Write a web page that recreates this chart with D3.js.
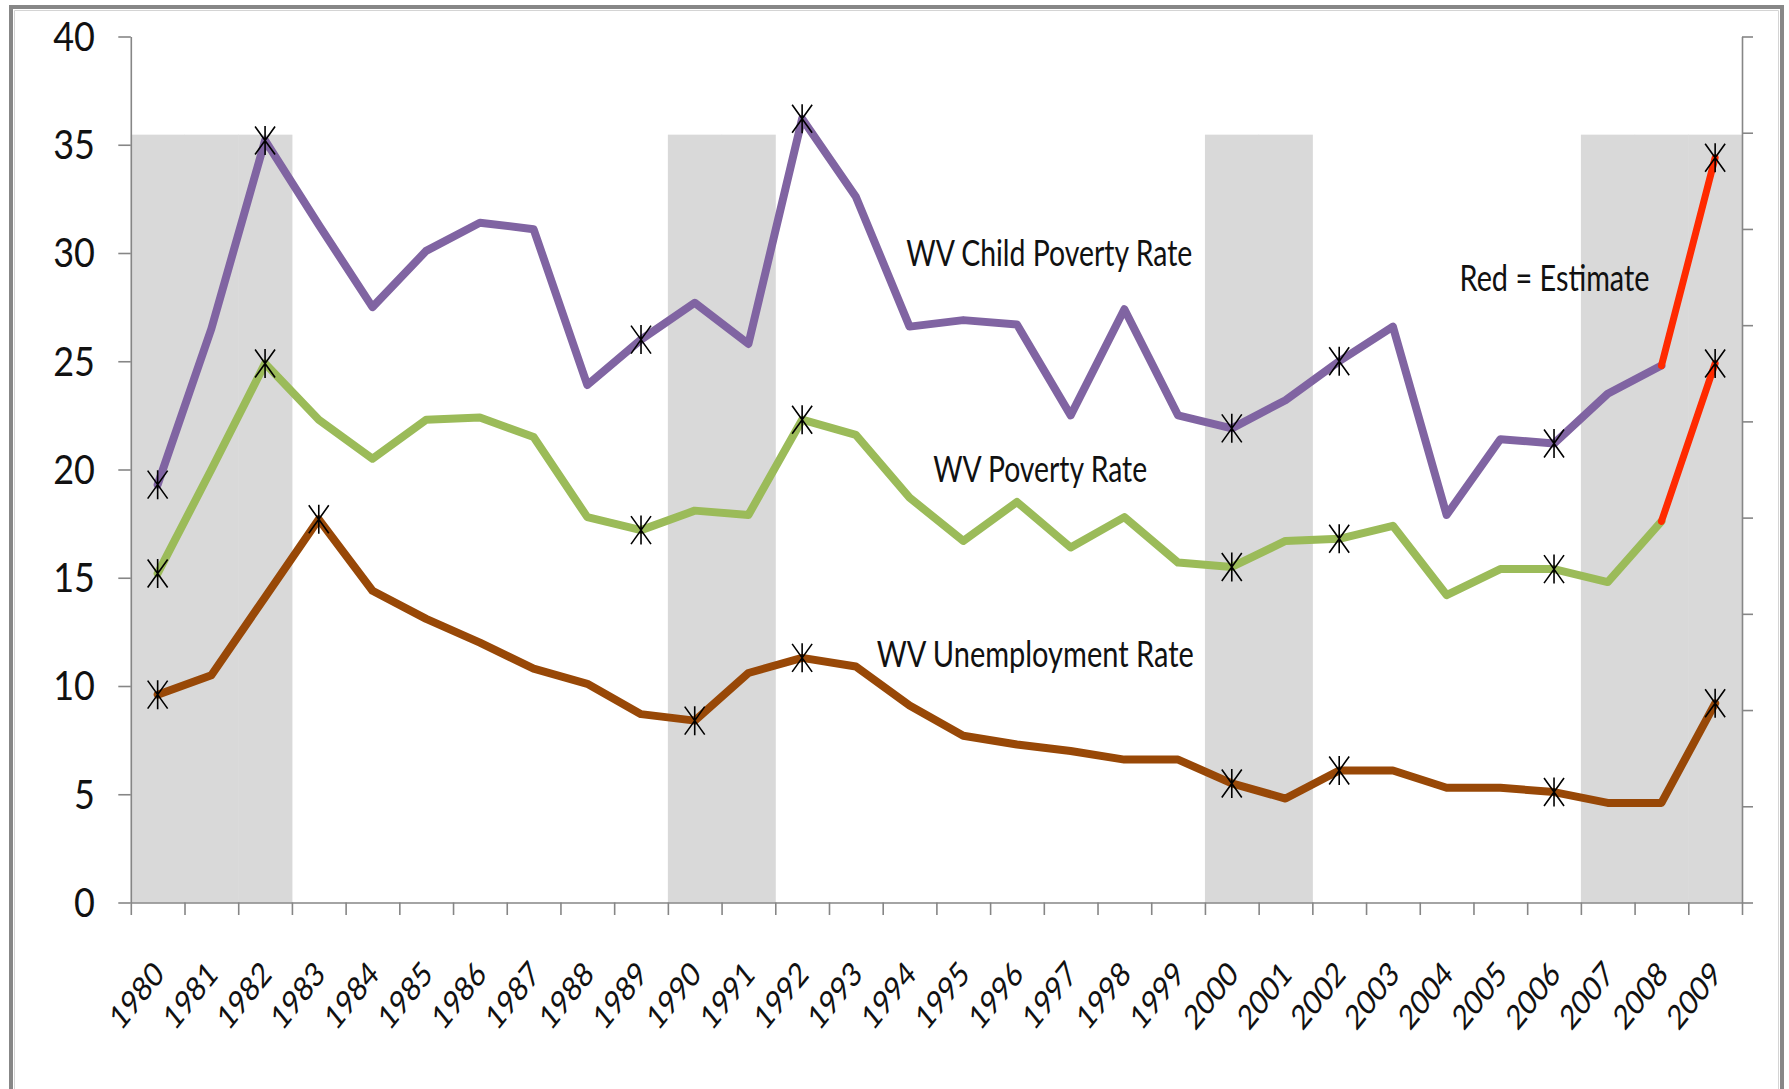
<html>
  <head>
    <style>
      body { margin: 0; background: #fff; }
      svg { display: block; }
      .tick-label, .note, .year { font-family: Lato, "Open Sans", sans-serif; fill: #111; }
    </style>
  </head>
  <body>
    <div id="vis"></div>
    <script src="https://d3js.org/d3.v7.min.js"></script>
    <script>
      // values
      const years = ["1980","1981","1982","1983","1984","1985","1986","1987","1988","1989",
                     "1990","1991","1992","1993","1994","1995","1996","1997","1998","1999",
                     "2000","2001","2002","2003","2004","2005","2006","2007","2008","2009"]
      const childPoverty = [19.3, 26.5, 35.2, 31.3, 27.5, 30.1, 31.4, 31.1, 23.9, 26.0,
                            27.7, 25.8, 36.2, 32.6, 26.6, 26.9, 26.7, 22.5, 27.4, 22.5,
                            21.9, 23.2, 25.0, 26.6, 17.9, 21.4, 21.2, 23.5, 24.8, 34.4]
      const poverty = [15.2, 20.0, 24.9, 22.3, 20.5, 22.3, 22.4, 21.5, 17.8, 17.2,
                       18.1, 17.9, 22.3, 21.6, 18.7, 16.7, 18.5, 16.4, 17.8, 15.7,
                       15.5, 16.7, 16.8, 17.4, 14.2, 15.4, 15.4, 14.8, 17.6, 24.9]
      const unemployment = [9.6, 10.5, 14.1, 17.7, 14.4, 13.1, 12.0, 10.8, 10.1, 8.7,
                            8.4, 10.6, 11.3, 10.9, 9.1, 7.7, 7.3, 7.0, 6.6, 6.6,
                            5.5, 4.8, 6.1, 6.1, 5.3, 5.3, 5.1, 4.6, 4.6, 9.2]
      const childMarks = ["1980","1982","1989","1992","2000","2002","2006","2009"]
      const povertyMarks = ["1980","1982","1989","1992","2000","2002","2006","2009"]
      const unemploymentMarks = ["1980","1983","1990","1992","2000","2002","2006","2009"]
      const recessionYears = ["1980","1981","1982","1990","1991","2000","2001","2007","2008","2009"]
      const recessionValue = 7.98   // on the unlabeled right axis
      const estimateYears = ["2008","2009"]
      const yTicks = [0, 5, 10, 15, 20, 25, 30, 35, 40]
      const y2Ticks = [0, 1, 2, 3, 4, 5, 6, 7, 8, 9]

      const W = 1789, H = 1089
      const pLeft = 130.8, pRight = 1742, pTop = 36.5, pBottom = 902.5
      const axisColor = '#868686'

      const svg = d3.select('#vis').append('svg').attr('width', W).attr('height', H)

      const x = d3.scaleBand().domain(years).range([pLeft, pRight]).padding(0)
      const xi = d3.scaleLinear().domain([0, years.length]).range([pLeft, pRight])
      const y = d3.scaleLinear().domain([0, 40]).range([pBottom, pTop])
      const y2 = d3.scaleLinear().domain([0, 9]).range([pBottom, pTop])
      const cx = d => x(d) + x.bandwidth() / 2

      // outer frame
      svg.append('path')
        .attr('d', 'M11,' + H + 'V7H1782V' + H)
        .attr('fill', 'none').attr('stroke', '#878787').attr('stroke-width', 4)
      svg.append('path')
        .attr('d', 'M14.5,' + H + 'V10.5H1778.5V' + H)
        .attr('fill', 'none').attr('stroke', '#d4d4d4').attr('stroke-width', 1)

      // recession bands
      svg.append('g').selectAll('rect')
        .data(recessionYears)
        .join('rect')
        .attr('x', d => x(d))
        .attr('width', x.bandwidth() + 0.5)
        .attr('y', y2(recessionValue))
        .attr('height', pBottom - y2(recessionValue))
        .attr('fill', '#d9d9d9')

      // axes
      svg.append('g').attr('transform', 'translate(' + pLeft + ',0)')
        .call(d3.axisLeft(y).tickValues(yTicks).tickSize(12.5).tickSizeOuter(0).tickFormat(''))
      svg.append('g').attr('transform', 'translate(' + pRight + ',0)')
        .call(d3.axisRight(y2).tickValues(y2Ticks).tickSize(11).tickSizeOuter(0).tickFormat(''))
      svg.append('g').attr('transform', 'translate(0,' + pBottom + ')')
        .call(d3.axisBottom(xi).tickValues(d3.range(years.length + 1)).tickSize(12.5).tickSizeOuter(0).tickFormat(''))
      svg.selectAll('.domain, .tick line').attr('stroke', axisColor).attr('stroke-width', 1.6)

      svg.append('g').selectAll('text')
        .data(yTicks)
        .join('text')
        .attr('class', 'tick-label')
        .attr('transform', d => 'translate(95,' + y(d) + ') scale(0.9,1)')
        .attr('text-anchor', 'end')
        .attr('dy', '0.36em')
        .attr('font-size', 40)
        .text(d => d)

      svg.append('g').selectAll('text')
        .data(years)
        .join('text')
        .attr('class', 'year')
        .attr('transform', d => 'translate(' + (cx(d) + 8) + ',976) scale(0.8,1) rotate(-45)')
        .attr('text-anchor', 'end')
        .attr('font-size', 34)
        .text(d => d)

      // lines
      const line = d3.line().x(d => cx(d[0])).y(d => y(d[1]))
      const series = [
        { values: childPoverty, color: '#8064a2', marks: childMarks, est: true },
        { values: poverty, color: '#9bbb59', marks: povertyMarks, est: true },
        { values: unemployment, color: '#984807', marks: unemploymentMarks, est: false }
      ]
      series.forEach(s => {
        const pts = years.map((yr, i) => [yr, s.values[i]])
        const solid = s.est ? pts.filter(p => p[0] !== estimateYears[1]) : pts
        svg.append('path')
          .attr('d', line(solid))
          .attr('fill', 'none').attr('stroke', s.color)
          .attr('stroke-width', 8).attr('stroke-linejoin', 'round').attr('stroke-linecap', 'round')
        if (s.est) {
          svg.append('path')
            .attr('d', line(pts.filter(p => estimateYears.includes(p[0]))))
            .attr('fill', 'none').attr('stroke', '#ff2a00')
            .attr('stroke-width', 7).attr('stroke-linecap', 'round')
        }
      })

      // star markers
      series.forEach(s => {
        svg.append('g').selectAll('path')
          .data(s.marks)
          .join('path')
          .attr('transform', d => 'translate(' + cx(d) + ',' + y(s.values[years.indexOf(d)]) + ')')
          .attr('d', 'M-10,-14L10,14M10,-14L-10,14M0,-14.5V14.5')
          .attr('fill', 'none').attr('stroke', '#000').attr('stroke-width', 1.6)
      })

      // notes
      const notes = [
        { text: 'WV Child Poverty Rate', at: [14.44, 29.4], len: 286 },
        { text: 'WV Poverty Rate', at: [14.94, 19.42], len: 214 },
        { text: 'WV Unemployment Rate', at: [13.89, 10.9], len: 317 },
        { text: 'Red = Estimate', at: [24.74, 28.25], len: 190 }
      ]
      svg.append('g').selectAll('text')
        .data(notes)
        .join('text')
        .attr('class', 'note')
        .attr('x', d => xi(d.at[0]))
        .attr('y', d => y(d.at[1]))
        .attr('font-size', 37)
        .attr('textLength', d => d.len)
        .attr('lengthAdjust', 'spacingAndGlyphs')
        .text(d => d.text)
    </script>
  </body>
</html>
